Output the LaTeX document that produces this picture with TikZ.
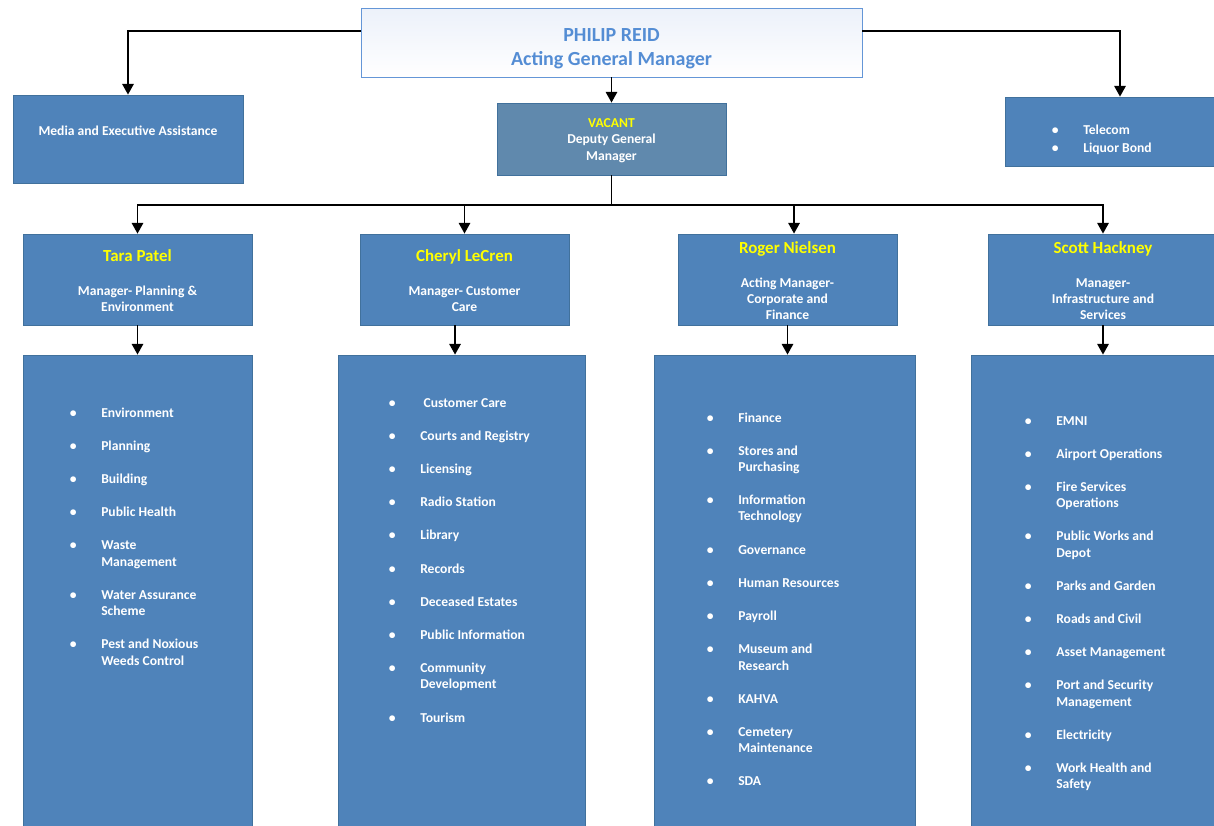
\documentclass[tikz,border=0pt]{standalone}
\usepackage{fontspec}
\setmainfont{Carlito}
\usepackage{tikz}
\usetikzlibrary{arrows.meta, fit}
\definecolor{cajaAzul}{RGB}{79,131,186}
\definecolor{bordeAzul}{RGB}{65,113,156}
\definecolor{cajaVice}{RGB}{96,137,173}
\definecolor{textoJefe}{RGB}{84,141,212}
\definecolor{fondoJefe}{RGB}{236,241,250}
\definecolor{bordeJefe}{RGB}{100,150,215}
\definecolor{nombreAm}{RGB}{255,255,0}
\newcommand{\itemfont}{\fontsize{10.2}{12.2}\selectfont\bfseries}
\newcommand{\namefont}{\fontsize{12.7}{15}\selectfont\bfseries}
\newcommand{\jefefont}{\fontsize{15}{18}\selectfont\bfseries}
\newcommand{\bul}{\makebox[21pt][l]{\makebox[0pt]{\textbullet}}}

\begin{document}
\begin{tikzpicture}[
  x=0.75pt, y=-0.75pt,
  box/.style={rectangle, draw=bordeAzul, line width=0.6pt, fill=cajaAzul, inner sep=0pt},
  jefe/.style={box, draw=bordeJefe, top color=fondoJefe, bottom color=white},
  vice/.style={box, fill=cajaVice},
  lbl/.style={inner sep=0pt, text=white, font=\itemfont, align=center},
  items/.style={anchor=base west, inner sep=0pt, text=white, font=\itemfont},
  conn/.style={line width=1.4pt},
  arr/.style={conn, -{Triangle[width=8.5pt, length=8pt]}}
]
\useasboundingbox (0,0) rectangle (1214,825);

% Gerencia general
\node[jefe, fit={(361,8)(862,77)}] (gm) {};
\node[lbl, text=textoJefe, font=\jefefont] (gmlbl) at ([yshift=-4.3pt]gm.center)
  {PHILIP REID\\Acting General Manager};

% Apoyo directo
\node[box, fit={(13,95)(243,183)}] (media) {};
\node[lbl] (medialbl) at ([yshift=6pt]media.center) {Media and Executive Assistance};
\node[box, fit={(1005,97)(1235,166)}] (telecom) {};
\node[items] (telecomlbl) at (1055,134) {\begin{tabular}[t]{@{}l@{}l@{}}
  \bul & Telecom\\[2pt]
  \bul & Liquor Bond
\end{tabular}};

% Subgerencia
\node[vice, fit={(497,103)(726,175)}] (deputy) {};
\node[lbl] (deputylbl) at ([yshift=-1.2pt]deputy.center) {{\color{nombreAm}VACANT}\\Deputy General\\Manager};

% Gerentes
\node[box, fit={(23,234)(252,325)}] (tara) {};
\node[box, fit={(360,234)(569,325)}] (cheryl) {};
\node[box, fit={(678,234)(897,325)}] (roger) {};
\node[box, fit={(988,234)(1218,325)}] (scott) {};
\node[lbl] (taralbl) at ([yshift=-1pt]tara.center)
  {{\namefont\color{nombreAm}Tara Patel}\\[13.3pt]Manager- Planning \&\\Environment};
\node[lbl] (cheryllbl) at ([yshift=-1pt]cheryl.center)
  {{\namefont\color{nombreAm}Cheryl LeCren}\\[13.3pt]Manager- Customer\\Care};
\node[lbl] (rogerlbl) at ([yshift=-1pt]roger.center)
  {{\namefont\color{nombreAm}Roger Nielsen}\\[13.3pt]Acting Manager-\\Corporate and\\Finance};
\node[lbl] (scottlbl) at ([yshift=-1pt]scott.center)
  {{\namefont\color{nombreAm}Scott Hackney}\\[13.3pt]Manager-\\Infrastructure and\\Services};

% Areas a cargo
\node[box, fit={(23,355)(252,845)}] (taralist) {};
\node[box, fit={(338,355)(585,845)}] (cherylist) {};
\node[box, fit={(654,355)(915,845)}] (rogerlist) {};
\node[box, fit={(971,355)(1235,845)}] (scottlist) {};

\node[items] (taraitems) at (73,417) {\begin{tabular}[t]{@{}l@{}l@{}}
  \bul & Environment\\[12.7pt]
  \bul & Planning\\[12.7pt]
  \bul & Building\\[12.7pt]
  \bul & Public Health\\[12.7pt]
  \bul & Waste\\ & Management\\[12.7pt]
  \bul & Water Assurance\\ & Scheme\\[12.7pt]
  \bul & Pest and Noxious\\ & Weeds Control
\end{tabular}};

\node[items] (cherylitems) at (392,407) {\begin{tabular}[t]{@{}l@{}l@{}}
  \bul & \hspace{2.5pt}Customer Care\\[12.7pt]
  \bul & Courts and Registry\\[12.7pt]
  \bul & Licensing\\[12.7pt]
  \bul & Radio Station\\[12.7pt]
  \bul & Library\\[12.7pt]
  \bul & Records\\[12.7pt]
  \bul & Deceased Estates\\[12.7pt]
  \bul & Public Information\\[12.7pt]
  \bul & Community\\ & Development\\[12.7pt]
  \bul & Tourism
\end{tabular}};

\node[items] (rogeritems) at (710,422) {\begin{tabular}[t]{@{}l@{}l@{}}
  \bul & Finance\\[12.7pt]
  \bul & Stores and\\ & Purchasing\\[12.7pt]
  \bul & Information\\ & Technology\\[12.7pt]
  \bul & Governance\\[12.7pt]
  \bul & Human Resources\\[12.7pt]
  \bul & Payroll\\[12.7pt]
  \bul & Museum and\\ & Research\\[12.7pt]
  \bul & KAHVA\\[12.7pt]
  \bul & Cemetery\\ & Maintenance\\[12.7pt]
  \bul & SDA
\end{tabular}};

\node[items] (scottitems) at (1028,425) {\begin{tabular}[t]{@{}l@{}l@{}}
  \bul & EMNI\\[12.7pt]
  \bul & Airport Operations\\[12.7pt]
  \bul & Fire Services\\ & Operations\\[12.7pt]
  \bul & Public Works and\\ & Depot\\[12.7pt]
  \bul & Parks and Garden\\[12.7pt]
  \bul & Roads and Civil\\[12.7pt]
  \bul & Asset Management\\[12.7pt]
  \bul & Port and Security\\ & Management\\[12.7pt]
  \bul & Electricity\\[12.7pt]
  \bul & Work Health and\\ & Safety
\end{tabular}};

% Conectores
\draw[arr] ([yshift=8.6pt]gm.west) -| (media.north);
\draw[arr] ([yshift=8.6pt]gm.east) -| (telecom.north);
\draw[arr] (gm.south) -- (deputy.north);

\coordinate (bus) at (611.5,205);
\draw[conn] (deputy.south) -- (bus);
\draw[arr] (bus) -| (tara.north);
\draw[arr] (bus) -| (cheryl.north);
\draw[arr] (bus) -| ([xshift=4.9pt]roger.north);
\draw[arr] (bus) -| (scott.north);

\draw[arr] (tara.south) -- (taralist.north);
\draw[arr] ([xshift=-7.1pt]cheryl.south) -- ([xshift=-7.1pt]cheryl.south |- cherylist.north);
\draw[arr] (roger.south) -- (roger.south |- rogerlist.north);
\draw[arr] (scott.south) -- (scott.south |- scottlist.north);

\end{tikzpicture}
\end{document}
